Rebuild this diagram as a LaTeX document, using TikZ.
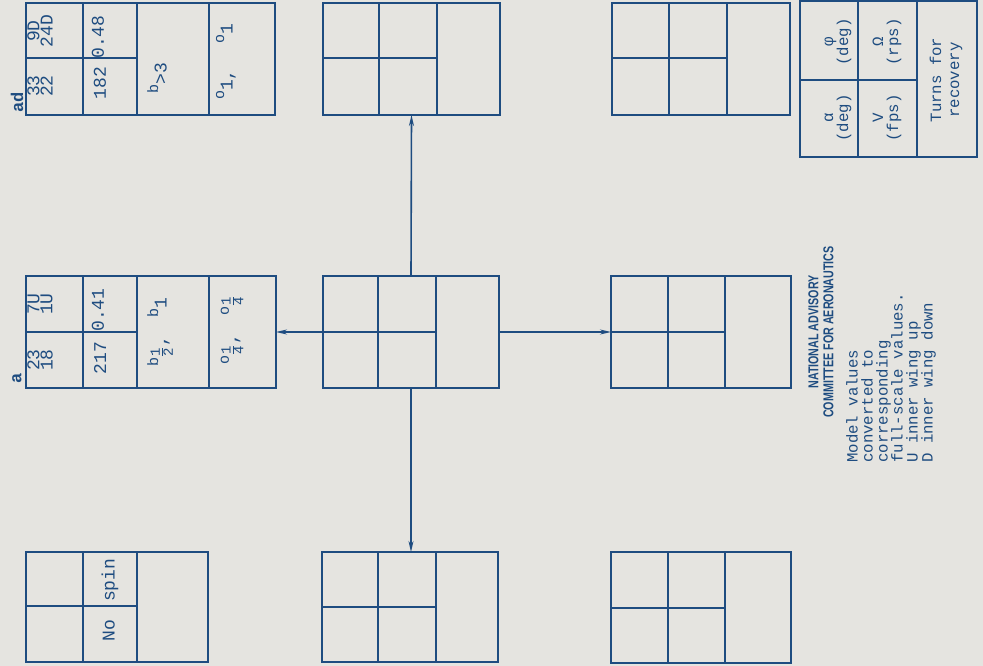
\documentclass[tikz,border=0pt]{standalone}
\usepackage{amsmath}
\usepackage{fontspec}
\setmonofont{Liberation Mono}
\setsansfont{Liberation Sans}
\usetikzlibrary{arrows.meta}

\definecolor{paper}{RGB}{229,228,224}
\definecolor{ink}{RGB}{30,76,128}

% raised footnote letter and stacked typewriter fraction
\newcommand{\fn}[1]{\raisebox{0.9ex}{\fontsize{15}{15}\selectfont #1}}
\newcommand{\fr}[2]{\ensuremath{\frac{\text{\fontsize{14}{14}\selectfont #1}}{\text{\fontsize{14}{14}\selectfont #2}}}}

\begin{document}
\begin{tikzpicture}[x=1pt, y=-1pt, >={Stealth[length=11pt,width=5pt]},
    chart/.style={draw=ink, line width=1.7pt, inner sep=0pt, outer sep=0pt, anchor=north west},
    rule/.style={draw=ink, line width=1.7pt},
    link/.style={draw=ink, line width=1.6pt, ->},
    entry/.style={rotate=90, text=ink, inner sep=0pt, align=center, font=\ttfamily\fontsize{18}{11}\selectfont},
    tag/.style={rotate=90, text=ink, inner sep=0pt, font=\ttfamily\bfseries\fontsize{17}{17}\selectfont},
    note/.style={rotate=90, text=ink, inner sep=0pt, align=left, font=\ttfamily\fontsize{15.7}{15}\selectfont},
    heading/.style={rotate=90, text=ink, inner sep=0pt, align=center, font=\sffamily\bfseries\fontsize{14.3}{15}\selectfont}]

    % --- paper ---
    \fill[paper] (0,0) rectangle (983,666);

    % --- Top row of charts ---
    \node[chart, minimum width=249pt, minimum height=112pt] (ad) at (26,3) {};
    \draw[rule] (83,3) -- (83,115) (137,3) -- (137,115) (209,3) -- (209,115) (26,58) -- (137,58);
    \node[chart, minimum width=177pt, minimum height=112pt] (topc) at (323,3) {};
    \draw[rule] (379,3) -- (379,115) (437,3) -- (437,115) (323,58) -- (437,58);
    \node[chart, minimum width=178pt, minimum height=112pt] (topr) at (612,3) {};
    \draw[rule] (669,3) -- (669,115) (727,3) -- (727,115) (612,58) -- (727,58);

    % --- Middle row of charts ---
    \node[chart, minimum width=250pt, minimum height=112pt] (abox) at (26,276) {};
    \draw[rule] (83,276) -- (83,388) (137,276) -- (137,388) (209,276) -- (209,388) (26,332) -- (137,332);
    \node[chart, minimum width=176pt, minimum height=112pt] (ctr) at (323,276) {};
    \draw[rule] (378,276) -- (378,388) (436,276) -- (436,388) (323,332) -- (436,332);
    \node[chart, minimum width=180pt, minimum height=112pt] (midr) at (611,276) {};
    \draw[rule] (668,276) -- (668,388) (725,276) -- (725,388) (611,332) -- (725,332);

    % --- Bottom row of charts ---
    \node[chart, minimum width=182pt, minimum height=110pt] (nospin) at (26,552) {};
    \draw[rule] (83,552) -- (83,662) (137,552) -- (137,662) (26,606) -- (137,606);
    \node[chart, minimum width=176pt, minimum height=110pt] (botc) at (322,552) {};
    \draw[rule] (378,552) -- (378,662) (436,552) -- (436,662) (322,607) -- (436,607);
    \node[chart, minimum width=180pt, minimum height=111pt] (botr) at (611,552) {};
    \draw[rule] (668,552) -- (668,663) (725,552) -- (725,663) (611,608) -- (725,608);

    % --- Arrows out of the centre chart ---
    \draw[link] (ctr.north) -- (topc.south);
    \draw[link] (ctr.west) -- (abox.east);
    \draw[link] (ctr.east) -- (midr.west);
    \draw[link] (ctr.south) -- (ctr.south |- botc.north);

    % --- Entries ---
    \node[tag] (adtag) at (17,102) {ad};
    \node[entry] (ad11) at (40,31) {9D\\24D};
    \node[entry] (ad12) at (40,86) {33\\22};
    \node[entry] (ad21) at (98,37) {0.48};
    \node[entry] (ad22) at (100,83) {182};
    \node[entry] (ad3) at (157,78) {\fn{b}>3};
    \node[entry] (ad4) at (226,62) {\fn{o}1,\hspace{1.4em}\fn{o}1};

    \node[tag] (atag) at (17,378) {a};
    \node[entry] (a11) at (40,304) {7U\\1U};
    \node[entry] (a12) at (40,360) {23\\18};
    \node[entry] (a21) at (98,310) {0.41};
    \node[entry] (a22) at (100,358) {217};
    \node[entry] (a3) at (160,332) {\fn{b}\fr{1}{2},\hspace{1em}\fn{b}1};
    \node[entry] (a4) at (232,330) {\fn{o}\fr{1}{4},\hspace{1em}\fn{o}\fr{1}{4}};

    \node[entry] (nospintxt) at (110,600) {No\hspace{1em}spin};

    % --- Key ---
    \node[chart, minimum width=177pt, minimum height=156pt] (key) at (800,1) {};
    \draw[rule] (858,1) -- (858,157) (917,1) -- (917,157) (800,80) -- (917,80);
    \node[note, align=center] (k11) at (838,118) {α\\(deg)};
    \node[note, align=center] (k12) at (838,42) {φ\\(deg)};
    \node[note, align=center] (k21) at (887,118) {V\\(fps)};
    \node[note, align=center] (k22) at (887,42) {Ω\\(rps)};
    \node[note, align=center, font=\ttfamily\fontsize{15.7}{18}\selectfont] (k3) at (946,80) {Turns for\\recovery};

    % --- Title and notes ---
    \node[heading] (naca) at (821,332) {\scalebox{0.75}[1]{NATIONAL ADVISORY}\\\scalebox{0.75}[1]{COMMITTEE FOR AERONAUTICS}};
    \node[note, anchor=north west] (notes) at (846,463) {Model values\\converted to\\corresponding\\full-scale values.\\U\hspace{0.6em}inner wing up\\D\hspace{0.6em}inner wing down};
\end{tikzpicture}
\end{document}
